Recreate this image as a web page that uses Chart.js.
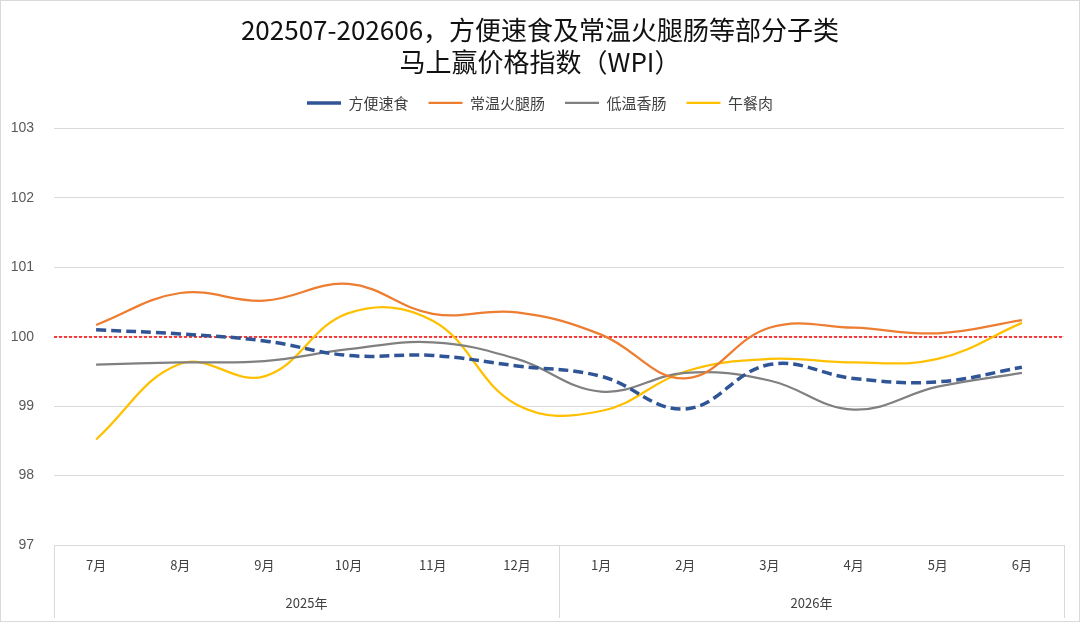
<!DOCTYPE html>
<html>
<head>
<meta charset="utf-8">
<script src="https://cdn.jsdelivr.net/npm/chart.js@4.4.1/dist/chart.umd.min.js"></script>
<style>
  html, body { margin: 0; padding: 0; background: #fff; }
  #wrap { width: 1080px; height: 623px; position: relative; }
</style>
</head>
<body>
<div id="wrap"><canvas id="wpi"></canvas></div>
<script>
// Data
const months = ['7月', '8月', '9月', '10月', '11月', '12月', '1月', '2月', '3月', '4月', '5月', '6月'];
const yearLabels = ['2025年', '2026年'];
const yearSpans = [6, 6];

const instantFood = [100.10, 100.04, 99.94, 99.73, 99.73, 99.58, 99.43, 98.96, 99.60, 99.40, 99.35, 99.56];
const hamSausage = [100.17, 100.63, 100.52, 100.76, 100.33, 100.35, 100.03, 99.40, 100.13, 100.13, 100.05, 100.24];
const lowTempSausage = [99.60, 99.63, 99.65, 99.82, 99.92, 99.68, 99.21, 99.48, 99.37, 98.95, 99.28, 99.48];
const luncheonMeat = [98.52, 99.61, 99.43, 100.34, 100.23, 99.02, 98.93, 99.50, 99.68, 99.63, 99.68, 100.20];

const seriesNames = ['方便速食', '常温火腿肠', '低温香肠', '午餐肉'];
const baseline = 100;

const FONT = '"Noto Sans CJK SC", "Noto Sans", sans-serif';
const c = {
  blue: '#2F5597',
  orange: '#ED7D31',
  gray: '#808080',
  yellow: '#FFC000',
  red: '#FF0000',
  grid: '#D9D9D9',
  text: '#404040',
  num: '#595959'
};

// red dashed reference line + frame
const decorations = {
  id: 'decorations',
  beforeDraw(chart) {
    const { ctx, width, height } = chart;
    ctx.save();
    ctx.fillStyle = '#fff';
    ctx.fillRect(0, 0, width, height);
    ctx.strokeStyle = c.grid;
    ctx.lineWidth = 1;
    ctx.strokeRect(0.5, 0.5, width - 1, height - 2);
    ctx.restore();
  },
  beforeDatasetsDraw(chart) {
    const { ctx, chartArea, scales } = chart;
    const y = Math.round(scales.y.getPixelForValue(baseline));
    ctx.save();
    ctx.strokeStyle = c.red;
    ctx.lineWidth = 1.3;
    ctx.setLineDash([3, 2]);
    ctx.beginPath();
    ctx.moveTo(chartArea.left, y);
    ctx.lineTo(chartArea.right, y);
    ctx.stroke();
    ctx.restore();
  }
};

// extra room under the legend, and centre title/legend on the whole canvas
const headerLayout = {
  id: 'headerLayout',
  beforeInit(chart) {
    const fit = chart.legend.fit;
    chart.legend.fit = function () {
      fit.call(this);
      this.height += 8;
    };
  },
  afterLayout(chart) {
    const shift = (chart.width - chart.legend.right - chart.legend.left) / 2;
    [chart.legend, chart.titleBlock].forEach(box => {
      box.left += shift;
      box.right += shift;
    });
  }
};

// second level of the category axis: years
const yearGroups = {
  id: 'yearGroups',
  afterDraw(chart) {
    const { ctx, scales, chartArea } = chart;
    const x = scales.x;
    const step = (x.right - x.left) / months.length;
    const top = chartArea.bottom;
    const bottom = chart.height - 5;
    ctx.save();
    ctx.strokeStyle = c.grid;
    ctx.lineWidth = 1;
    ctx.fillStyle = c.text;
    ctx.font = '13px ' + FONT;
    ctx.textAlign = 'center';
    ctx.textBaseline = 'middle';
    let idx = 0;
    const edges = [x.left];
    yearLabels.forEach((label, i) => {
      const start = x.left + idx * step;
      idx += yearSpans[i];
      const end = x.left + idx * step;
      edges.push(end);
      ctx.fillText(label, (start + end) / 2, top + 58);
    });
    edges.forEach(px => {
      const xx = Math.round(px) + 0.5;
      ctx.beginPath();
      ctx.moveTo(xx, top);
      ctx.lineTo(xx, bottom);
      ctx.stroke();
    });
    ctx.restore();
  }
};

function lineSet(label, data, color, extra) {
  return Object.assign({
    label,
    data,
    borderColor: color,
    backgroundColor: color,
    borderWidth: 2.25,
    pointRadius: 0,
    pointHoverRadius: 0,
    tension: 0.4,
    fill: false
  }, extra || {});
}

new Chart(document.getElementById('wpi'), {
  type: 'line',
  data: {
    labels: months,
    datasets: [
      lineSet(seriesNames[0], instantFood, c.blue, { borderWidth: 3.5, borderDash: [10, 5] }),
      lineSet(seriesNames[1], hamSausage, c.orange),
      lineSet(seriesNames[2], lowTempSausage, c.gray),
      lineSet(seriesNames[3], luncheonMeat, c.yellow)
    ]
  },
  options: {
    responsive: true,
    maintainAspectRatio: false,
    animation: false,
    layout: { padding: { left: 0, right: 16, top: 0, bottom: 0 } },
    plugins: {
      title: {
        display: true,
        text: ['202507-202606，方便速食及常温火腿肠等部分子类', '马上赢价格指数（WPI）'],
        color: '#111',
        font: { family: FONT, size: 26, weight: 'normal', lineHeight: 1.24 },
        padding: { top: 14, bottom: -3 }
      },
      legend: {
        position: 'top',
        labels: {
          color: c.text,
          font: { family: FONT, size: 15 },
          usePointStyle: true,
          pointStyle: 'line',
          pointStyleWidth: 34,
          boxWidth: 34,
          padding: 20
        }
      },
      tooltip: { enabled: false }
    },
    scales: {
      x: {
        offset: true,
        grid: { display: false, drawTicks: false },
        border: { display: false },
        ticks: { color: c.text, font: { family: FONT, size: 13 }, padding: 12, maxRotation: 0 },
        afterFit: s => { s.height = 78; }
      },
      y: {
        min: 97,
        max: 103,
        grid: { color: c.grid, drawTicks: false },
        border: { display: false },
        ticks: { stepSize: 1, color: c.num, font: { family: '"Liberation Sans", Arial, sans-serif', size: 14 }, padding: 20 },
        afterFit: s => { s.width = 54; }
      }
    }
  },
  plugins: [decorations, headerLayout, yearGroups]
});
</script>
</body>
</html>
